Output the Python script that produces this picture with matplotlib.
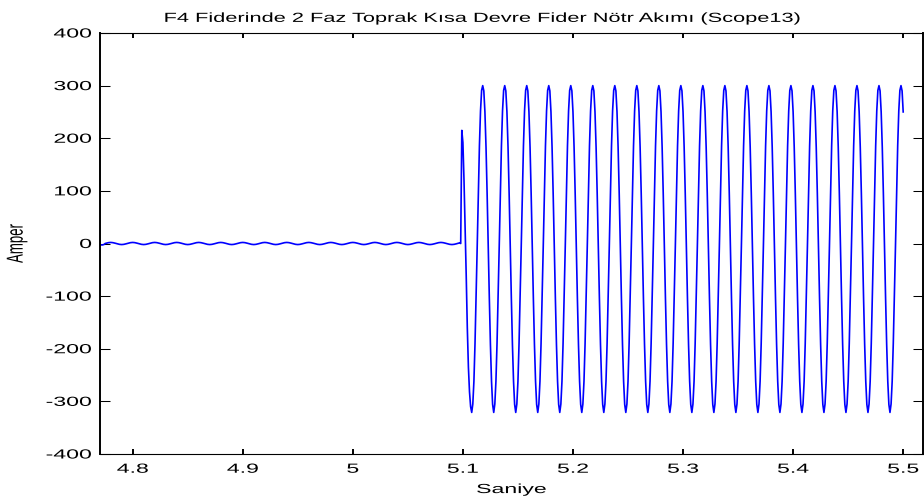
import numpy as np
import matplotlib

matplotlib.use("Agg")
import matplotlib.pyplot as plt
from matplotlib.patheffects import AbstractPathEffect
from matplotlib.transforms import Affine2D

plt.rcParams["font.family"] = ["Liberation Sans", "DejaVu Sans"]
plt.rcParams["axes.unicode_minus"] = False

# sampling step of the recorded signal (s)
DT = 0.001

# pre-fault small ripple, one 50 Hz cycle (A)
T_START = 4.770
PRE_START = [-1.5, -2.5, -2.8, -2.5, -1.8]
PRE_CYCLE = [0.0, 0.6, 1.2, 1.6, 1.9, 2.0, 1.9, 1.6, 1.2, 0.6,
             0.0, -0.6, -1.2, -1.6, -1.9, -2.0, -1.9, -1.6, -1.2, -0.6]

# fault onset, first partial cycle (A)
T_ONSET = 5.098
ONSET = [0.0, 215.0, 192.0, 120.0, 30.0, -60.0, -160.0, -235.0, -282.0, -310.0]

# steady fault cycle starting at a trough (A)
FAULT_CYCLE = [-321.0, -305.0, -262.0, -190.0, -101.0, -5.0, 95.0, 185.0, 252.0, 291.0,
               300.0, 290.0, 250.0, 183.0, 95.0, -5.0, -103.0, -192.0, -262.0, -306.0]
T_END = 5.500

X_TICKS = [4.8, 4.9, 5.0, 5.1, 5.2, 5.3, 5.4, 5.5]
X_TICK_LABELS = ["4.8", "4.9", "5", "5.1", "5.2", "5.3", "5.4", "5.5"]
Y_TICKS = [-400, -300, -200, -100, 0, 100, 200, 300, 400]
Y_TICK_LABELS = ["-400", "-300", "-200", "-100", "0", "100", "200", "300", "400"]

# the source figure was resized wider than tall, so its text looks stretched
TEXT_STRETCH = 1.75
TITLE_STRETCH = 1.65


class StretchX(AbstractPathEffect):
    """Widen drawn text horizontally about one of its edges or its centre."""

    def __init__(self, factor, anchor="center"):
        super().__init__()
        self.factor = factor
        self.anchor = anchor

    def draw_path(self, renderer, gc, tpath, affine, rgbFace=None):
        box = tpath.get_extents(affine)
        if self.anchor == "right":
            x0 = box.x1
        elif self.anchor == "left":
            x0 = box.x0
        else:
            x0 = (box.x0 + box.x1) / 2
        stretch = Affine2D().translate(-x0, 0).scale(self.factor, 1).translate(x0, 0)
        renderer.draw_path(gc, tpath, affine + stretch, rgbFace)


def build_signal():
    n_pre = int(round((T_ONSET - T_START) / DT))
    pre = list(PRE_START)
    while len(pre) < n_pre:
        pre.extend(PRE_CYCLE)
    pre = pre[:n_pre]

    t_fault = T_ONSET + len(ONSET) * DT
    n_fault = int(round((T_END - t_fault) / DT)) + 1
    fault = []
    while len(fault) < n_fault:
        fault.extend(FAULT_CYCLE)
    fault = fault[:n_fault]

    values = np.array(pre + ONSET + fault)
    times = T_START + DT * np.arange(len(values))
    return times, values


def main():
    times, values = build_signal()

    fig = plt.figure(figsize=(9.24, 5.03), dpi=100)
    ax = fig.add_axes([100 / 924, 49 / 503, 823 / 924, 421 / 503])

    ax.plot(times, values, color="#0000ff", linewidth=1.2)

    ax.set_xlim(4.7703, 5.518)
    ax.set_ylim(-400, 400)
    ax.set_xticks(X_TICKS, labels=X_TICK_LABELS)
    ax.set_yticks(Y_TICKS, labels=Y_TICK_LABELS)

    ax.tick_params(direction="in", top=True, right=True, labelsize=9.5)
    ax.tick_params(axis="x", length=3.6, width=1.4, pad=7)
    ax.tick_params(axis="y", length=7, width=0.75, pad=6)
    ax.spines["left"].set_linewidth(1.4)
    ax.spines["right"].set_linewidth(1.4)
    ax.spines["top"].set_linewidth(0.8)
    ax.spines["bottom"].set_linewidth(0.8)

    title = ax.set_title("F4 Fiderinde 2 Faz Toprak Kısa Devre Fider Nötr Akımı (Scope13)",
                         fontsize=9.5, pad=8)
    title.set_x(0.465)
    ax.set_xlabel("Saniye", fontsize=9.5, labelpad=6)
    ax.set_ylabel("Amper", fontsize=9.5, labelpad=30)

    for label in ax.get_yticklabels():
        label.set_path_effects([StretchX(TEXT_STRETCH, "right")])
    for label in ax.get_xticklabels():
        label.set_path_effects([StretchX(TEXT_STRETCH)])
    title.set_path_effects([StretchX(TITLE_STRETCH)])
    for text in (ax.xaxis.label, ax.yaxis.label):
        text.set_path_effects([StretchX(TEXT_STRETCH)])

    fig.savefig("out.png", dpi=100)


if __name__ == "__main__":
    main()
